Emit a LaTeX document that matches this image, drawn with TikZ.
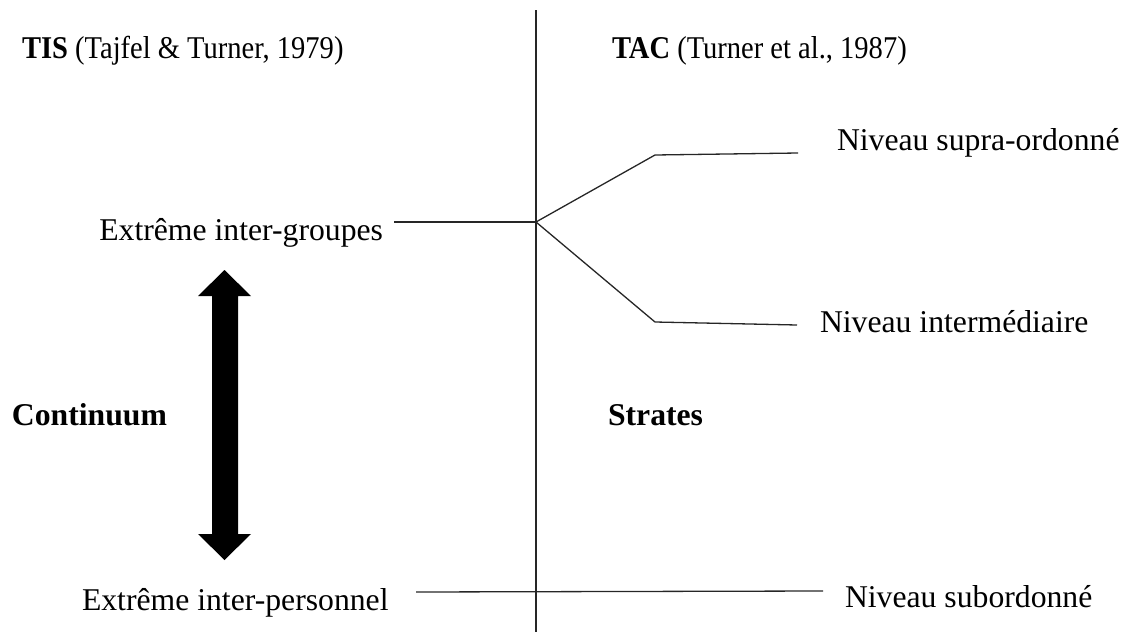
\documentclass[tikz,border=0pt]{standalone}
\usepackage{fontspec}
\setmainfont{Liberation Serif}
\begin{document}
\begin{tikzpicture}[x=1pt,y=-1pt,
  lbl/.style={inner sep=0pt,outer sep=0pt,font=\fontsize{31.7}{38}\selectfont},
  hdr/.style={inner sep=0pt,outer sep=0pt,font=\fontsize{31.7}{38}\selectfont,xscale=0.9},
  conn/.style={line width=1.3pt,draw=black!85}]
\useasboundingbox (0,0) rectangle (1128,632);
% headers
\node[hdr,anchor=base west] (tis) at (22,58) {\textbf{TIS} (Tajfel \& Turner, 1979)};
\node[hdr,anchor=base west] (tac) at (612,58) {\textbf{TAC} (Turner et al., 1987)};
% labels
\node[lbl,anchor=base east] (ig) at (383,240) {Extrême inter-groupes};
\node[lbl,anchor=base west] (ip) at (82,610) {Extrême inter-personnel};
\node[lbl,anchor=base west] (sup) at (837,150) {Niveau supra-ordonné};
\node[lbl,anchor=base west] (int) at (820,332) {Niveau intermédiaire};
\node[lbl,anchor=base west] (sub) at (845,607) {Niveau subordonné};
\node[lbl,anchor=base west] (cont) at (12,425) {\textbf{Continuum}};
\node[lbl,anchor=base west] (str) at (608,425) {\textbf{Strates}};
% coordinates
\coordinate (vtop) at (536,10);
\coordinate (vbot) at (536,632);
\coordinate (J) at (536,222);
\coordinate (Jl) at (394,222);
\coordinate (U) at (655,155);
\coordinate (Ue) at (798,153);
\coordinate (L) at (655,322);
\coordinate (Le) at (797,325);
\coordinate (Bl) at (416,592);
\coordinate (Br) at (823,591);
% lines
\draw[conn] (vtop) -- (vbot);
\draw[conn] (Jl) -- (J);
\draw[conn] (J) -- (U) -- (Ue);
\draw[conn] (J) -- (L) -- (Le);
\draw[conn] (Bl) -- (Br);
% double arrow
\fill[black] (212,296) -- (198,296) -- (224.5,270) -- (251,296) -- (238,296)
  -- (238,534) -- (251,534) -- (224.5,560) -- (198,534) -- (212,534) -- cycle;
\end{tikzpicture}
\end{document}
